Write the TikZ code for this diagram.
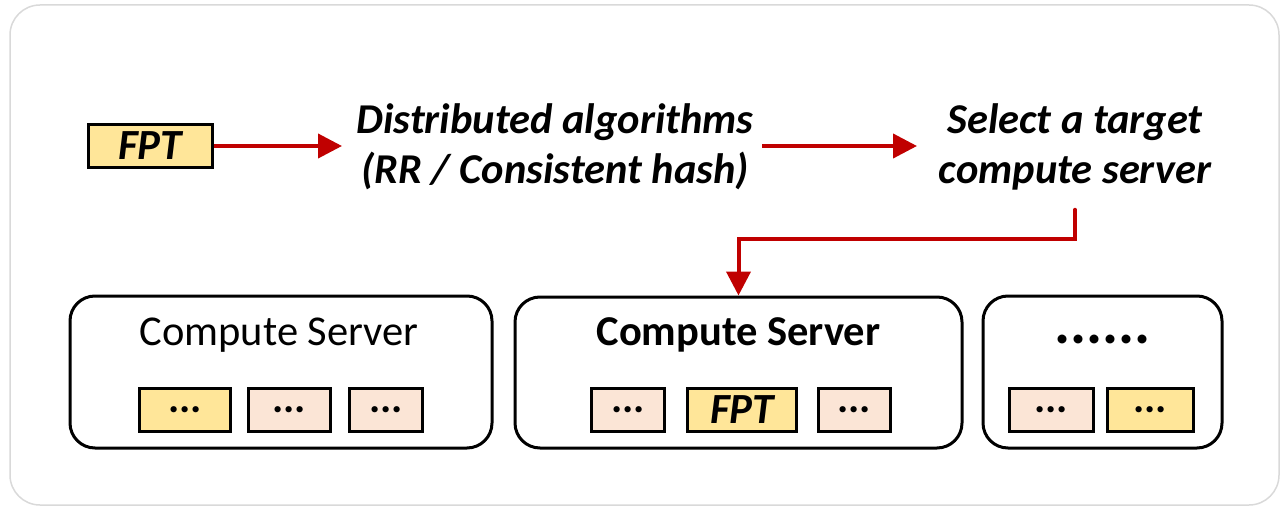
\documentclass[tikz,border=0pt]{standalone}
\usepackage{fontspec}
\setmainfont{Carlito}
\usetikzlibrary{arrows.meta}
\definecolor{fptyellow}{HTML}{FFE699}
\definecolor{slotpeach}{HTML}{FBE5D6}
\definecolor{flowred}{HTML}{C00000}
\begin{document}
\begin{tikzpicture}[x=1pt, y=-1pt,
    slot/.style={draw, line width=3pt, fill=slotpeach, minimum height=43pt, inner sep=0pt, font=\fontsize{42}{42}\selectfont\bfseries},
    fpt/.style={slot, fill=fptyellow},
    fpt text/.style={font=\fontsize{43}{43}\selectfont\bfseries\itshape},
    server/.style={draw, line width=3pt, rounded corners=25pt, inner sep=0pt},
    step text/.style={align=center, font=\fontsize{42.5}{50}\selectfont\bfseries\itshape},
    flow/.style={draw=flowred, line width=4pt, -{Triangle[length=24pt,width=24pt]}}]
      \useasboundingbox (0,0) rectangle (1281,508);
      \draw [gray!30, line width=1.5pt, rounded corners=30pt] (10,5) rectangle (1279,505);

      % top row
      \node [fpt, fpt text, minimum width=124pt] (req) at (150,146) {FPT};
      \node [step text] (algo) at (555,147) {Distributed algorithms\\(RR / Consistent hash)};
      \node [step text] (sel) at (1075,147) {Select a target\\compute server};

      % servers
      \node [server, minimum width=422pt, minimum height=152pt] (cs1) at (281,372) {};
      \node [server, minimum width=447pt, minimum height=151pt] (cs2) at (738.5,372.5) {};
      \node [server, minimum width=239pt, minimum height=152pt] (cs3) at (1102.5,372) {};
      \node [font=\fontsize{42.5}{42.5}\selectfont] at (279,335) {Compute Server};
      \node [font=\fontsize{42.5}{42.5}\selectfont\bfseries] at (738.5,335) {Compute Server};
      \node [font=\fontsize{60}{60}\selectfont\bfseries, anchor=base] at (1102.5,343) {......};

      \node [fpt, minimum width=91pt] (s11) at (185,410) {...};
      \node [slot, minimum width=82pt] (s12) at (289,410) {...};
      \node [slot, minimum width=73pt] (s13) at (386,410) {...};

      \node [slot, minimum width=73pt] (s21) at (628,410) {...};
      \node [fpt, fpt text, minimum width=109pt] (s22) at (742,410) {FPT};
      \node [slot, minimum width=72pt] (s23) at (854,410) {...};

      \node [slot, minimum width=84pt] (s31) at (1051,410) {...};
      \node [fpt, minimum width=86pt] (s32) at (1150,410) {...};

      % arrows
      \draw [flow] (req.east) -- (342,146);
      \draw [flow] (762,146) -- (917,146);
      \draw [flow, line cap=round] ([yshift=-16pt]sel.south) -- ++(0,29) -| (cs2.north);
    \end{tikzpicture}
\end{document}
